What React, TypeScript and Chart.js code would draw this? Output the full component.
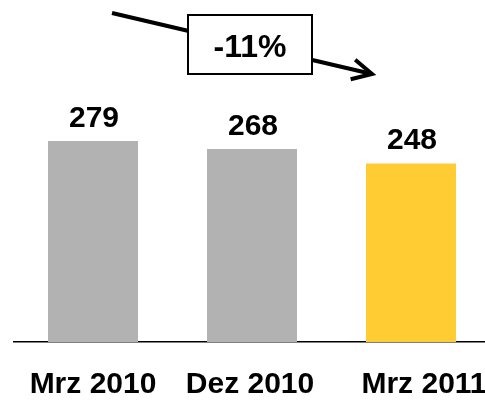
import { useEffect, useRef } from 'react';
import { Chart, registerables } from 'chart.js';

Chart.register(...registerables);

const categories = ['Mrz 2010', 'Dez 2010', 'Mrz 2011'];
const values = [279, 268, 248];
const barColors = ['#b2b2b2', '#b2b2b2', '#ffcc33'];

const FONT = 'Arial, "Liberation Sans", sans-serif';
// horizontal nudge of each category label relative to its tick (layout only)
const LABEL_NUDGE = [0, -2, 13];

export default function App() {
  const ref = useRef<HTMLCanvasElement>(null);

  useEffect(() => {
    document.body.style.margin = '0';
    const canvas = ref.current;
    if (!canvas) return;

    const valueLabels = {
      id: 'valueLabels',
      afterDatasetsDraw(chart: any) {
        const ctx = chart.ctx;
        const meta = chart.getDatasetMeta(0);
        ctx.save();
        ctx.font = `bold 30px ${FONT}`;
        ctx.fillStyle = '#000';
        ctx.textAlign = 'center';
        ctx.textBaseline = 'alphabetic';
        meta.data.forEach((bar: any, i: number) => {
          ctx.fillText(String(values[i]), bar.x + 1, bar.y - 14);
        });
        ctx.restore();
      },
    };

    const categoryLabels = {
      id: 'categoryLabels',
      afterDraw(chart: any) {
        const ctx = chart.ctx;
        const xs = chart.scales.x;
        ctx.save();
        ctx.font = `bold 30px ${FONT}`;
        ctx.fillStyle = '#000';
        ctx.textAlign = 'center';
        ctx.textBaseline = 'alphabetic';
        categories.forEach((c, i) => {
          ctx.fillText(c, xs.getPixelForTick(i) + LABEL_NUDGE[i], xs.top + 51);
        });
        ctx.restore();
      },
    };

    const trendArrow = {
      id: 'trendArrow',
      afterDraw(chart: any) {
        const ctx = chart.ctx;
        const meta = chart.getDatasetMeta(0);
        const first = meta.data[0];
        const mid = meta.data[1];
        const last = meta.data[meta.data.length - 1];
        const x0 = first.x + 19;
        const y0 = 13;
        const x1 = last.x - 39;
        const y1 = 74;
        ctx.save();
        ctx.strokeStyle = '#000';
        ctx.lineWidth = 4;
        ctx.lineCap = 'butt';
        ctx.beginPath();
        ctx.moveTo(x0, y0);
        ctx.lineTo(x1, y1);
        ctx.stroke();
        const ang = Math.atan2(y1 - y0, x1 - x0);
        const len = 22;
        const spread = (27 * Math.PI) / 180;
        ctx.lineJoin = 'miter';
        ctx.beginPath();
        ctx.moveTo(x1 - len * Math.cos(ang - spread), y1 - len * Math.sin(ang - spread));
        ctx.lineTo(x1, y1);
        ctx.lineTo(x1 - len * Math.cos(ang + spread), y1 - len * Math.sin(ang + spread));
        ctx.stroke();
        const bw = 124;
        const bh = 59;
        const bx = mid.x - 2 - bw / 2;
        const by = 15;
        ctx.fillStyle = '#fff';
        ctx.fillRect(bx, by, bw, bh);
        ctx.lineWidth = 2;
        ctx.strokeRect(bx, by, bw, bh);
        const pct = Math.round((values[values.length - 1] / values[0] - 1) * 100);
        ctx.fillStyle = '#000';
        ctx.font = `bold 32px ${FONT}`;
        ctx.textAlign = 'center';
        ctx.textBaseline = 'alphabetic';
        ctx.fillText(`${pct}%`, bx + bw / 2, 57);
        ctx.restore();
      },
    };

    const chart = new Chart(canvas, {
      type: 'bar',
      data: {
        labels: categories,
        datasets: [
          {
            data: values,
            backgroundColor: barColors,
            borderWidth: 0,
            barPercentage: 0.566,
            categoryPercentage: 1,
          },
        ],
      },
      options: {
        responsive: false,
        animation: false,
        layout: { padding: { left: 13.5, right: 1.5, top: 54, bottom: 0 } },
        plugins: {
          legend: { display: false },
          tooltip: { enabled: false },
        },
        scales: {
          x: {
            grid: { display: false, drawTicks: false },
            border: { display: true, color: '#000', width: 1.5 },
            ticks: { display: false },
            afterFit(scale: any) {
              scale.height = 58;
            },
          },
          y: { display: false, min: 0, max: 400 },
        },
      },
      plugins: [valueLabels, categoryLabels, trendArrow],
    });

    return () => chart.destroy();
  }, []);

  return (
    <div style={{ width: 485, height: 400, overflow: 'hidden', position: 'relative' }}>
      <canvas ref={ref} width={492} height={400} style={{ display: 'block', width: 492, height: 400 }} />
    </div>
  );
}
